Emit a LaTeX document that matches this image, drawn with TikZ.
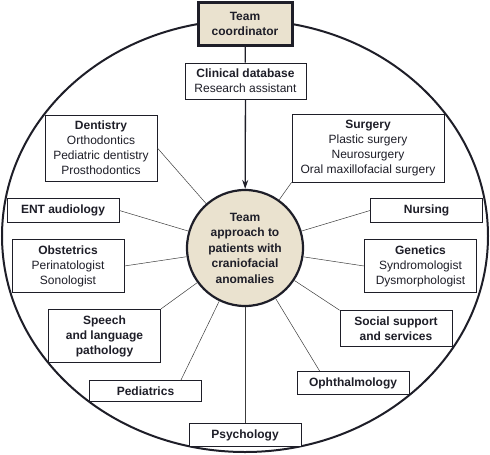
\documentclass[tikz,border=0pt]{standalone}
\usepackage{fontspec}
\setmainfont{Liberation Sans}
\usetikzlibrary{arrows.meta}
\definecolor{hubBeige}{HTML}{EAE2CF}
\definecolor{inkBlack}{HTML}{1E1E28}
\definecolor{spokeGrey}{HTML}{3C3C3C}

\begin{document}
\begin{tikzpicture}[
  x=1pt, y=-1pt,
  font=\fontsize{12}{15}\selectfont,
  unit/.style={
    rectangle, draw=inkBlack, line width=0.8pt, fill=white,
    minimum width=112pt, align=center, text=inkBlack,
    inner xsep=3pt, inner ysep=6pt,
  },
  hub/.style={
    circle, draw=inkBlack, line width=2.2pt, fill=hubBeige,
    minimum size=116pt, inner sep=0pt, align=center, text=inkBlack,
    font=\fontsize{12}{15.5}\selectfont\bfseries,
  },
  lead/.style={
    rectangle, draw=inkBlack, line width=3pt, fill=hubBeige,
    minimum width=94pt, minimum height=43pt, align=center, text=inkBlack,
    font=\fontsize{12}{15}\selectfont\bfseries,
  },
  spoke/.style={draw=spokeGrey, line width=0.5pt},
  feed/.style={-{Stealth[length=9pt, width=6pt]}, draw=inkBlack, line width=1.3pt},
]
\useasboundingbox (0,0) rectangle (490,455);

\draw[inkBlack, line width=2pt] (245,236) ellipse [x radius=243pt, y radius=216pt];

\node[lead] at (245,23.5) (coord) {Team\\coordinator};
\node[unit, minimum width=121pt] at (245.5,81) (clin) {\textbf{Clinical database}\\Research assistant};
\node[hub] at (245,248) (hub) {Team\\approach to\\patients with\\craniofacial\\anomalies};

% left side
\node[unit] at (101,148)   (dent)   {\textbf{Dentistry}\\Orthodontics\\Pediatric dentistry\\Prosthodontics};
\node[unit] at (63,210.5)  (ent)    {\textbf{ENT audiology}};
\node[unit] at (68,266)    (obs)    {\textbf{Obstetrics}\\Perinatologist\\Sonologist};
\node[unit] at (104.5,336) (speech) {\textbf{Speech}\\\textbf{and language}\\\textbf{pathology}};
\node[unit] at (145.5,391) (ped)    {\textbf{Pediatrics}};
\node[unit] at (245,435)   (psy)    {\textbf{Psychology}};

% right side
\node[unit, minimum width=152pt] at (368,148) (surg) {\textbf{Surgery}\\Plastic surgery\\Neurosurgery\\Oral maxillofacial surgery};
\node[unit] at (426.5,210.5) (nurs) {\textbf{Nursing}};
\node[unit] at (420.5,266)   (gen)  {\textbf{Genetics}\\Syndromologist\\Dysmorphologist};
\node[unit] at (396,328.5)   (soc)  {\textbf{Social support}\\\textbf{and services}};
\node[unit] at (353,383)     (oph)  {\textbf{Ophthalmology}};

\draw[inkBlack, line width=1.3pt] (coord) -- (clin);
\draw[feed] (clin) -- (hub);

\draw[spoke] (hub) -- (dent.east);
\draw[spoke] (hub) -- (ent.east);
\draw[spoke] (hub) -- (obs.east);
\draw[spoke] (hub) -- (speech.north east);
\draw[spoke] (hub) -- ([xshift=-21pt]ped.north east);
\draw[spoke] (hub) -- (psy);
\draw[spoke] (hub) -- (surg.south west);
\draw[spoke] (hub) -- (nurs.west);
\draw[spoke] (hub) -- (gen.west);
\draw[spoke] (hub) -- (soc.north west);
\draw[spoke] (hub) -- ([xshift=23pt]oph.north west);

\end{tikzpicture}
\end{document}
